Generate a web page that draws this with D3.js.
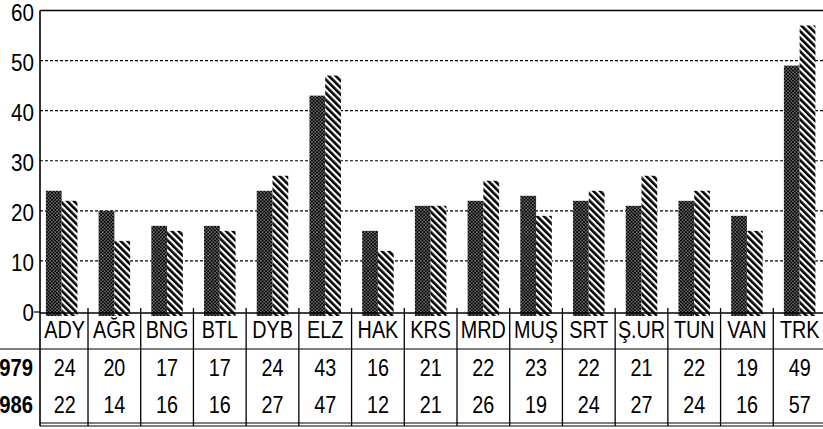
<!DOCTYPE html>
<html><head><meta charset="utf-8">
<script src="https://cdn.jsdelivr.net/npm/d3@7/dist/d3.min.js"></script>
<style>
html,body{margin:0;padding:0;background:#fff;}
svg{display:block;}
text{font-family:"Liberation Sans",Arial,sans-serif;fill:#000;}
</style></head>
<body>
<svg id="chart" width="823" height="429"></svg>
<script>
const categories = ["ADY","AĞR","BNG","BTL","DYB","ELZ","HAK","KRS","MRD","MUŞ","SRT","Ş.UR","TUN","VAN","TRK"];
const values1979 = [24,20,17,17,24,43,16,21,22,23,22,21,22,19,49];
const values1986 = [22,14,16,16,27,47,12,21,26,19,24,27,24,16,57];
const seriesNames = ["1979","1986"];
const yTicks = [0,10,20,30,40,50,60];

const svg = d3.select("#chart");
const axisX = 40, rightX = 823;

const x = d3.scaleBand().domain(categories).range([35.3, 826]).paddingInner(0).paddingOuter(0);
const inner = d3.scaleBand().domain(seriesNames).range([0, 31.5]);
const y = d3.scaleLinear().domain([0,60]).range([311, 10.5]);

const defs = svg.append("defs");
const pd = defs.append("pattern").attr("id","dots").attr("patternUnits","userSpaceOnUse")
  .attr("width",3.4).attr("height",3.4);
pd.append("rect").attr("width",3.4).attr("height",3.4).attr("fill","#000");
pd.append("circle").attr("cx",0.85).attr("cy",0.85).attr("r",0.65).attr("fill","#fff");
pd.append("circle").attr("cx",2.55).attr("cy",2.55).attr("r",0.65).attr("fill","#fff");
const ph = defs.append("pattern").attr("id","hatch").attr("patternUnits","userSpaceOnUse")
  .attr("width",4.8).attr("height",10).attr("patternTransform","rotate(-45)");
ph.append("rect").attr("width",4.8).attr("height",10).attr("fill","#fff");
ph.append("rect").attr("x",0).attr("width",2.6).attr("height",10).attr("fill","#000");

const fills = {"1979":"url(#dots)","1986":"url(#hatch)"};

function ctext(sel, tx, ty, str, size, anchor, weight, sx){
  return sel.append("text")
    .attr("transform", `translate(${tx},${ty}) scale(${sx||0.86},1)`)
    .attr("text-anchor", anchor||"middle")
    .attr("font-size", size)
    .attr("font-weight", weight||"normal")
    .text(str);
}

svg.append("g").selectAll("line").data(yTicks.filter(d=>d>0 && d<60)).join("line")
  .attr("x1",axisX).attr("x2",rightX).attr("y1",d=>y(d)).attr("y2",d=>y(d))
  .attr("stroke","#000").attr("stroke-width",1.2).attr("stroke-dasharray","3,2");
svg.append("line").attr("x1",axisX).attr("x2",rightX).attr("y1",y(60)).attr("y2",y(60))
  .attr("stroke","#000").attr("stroke-width",1.5);

const rows = categories.map((c,i)=>({cat:c, v:{"1979":values1979[i],"1986":values1986[i]}}));
const g = svg.append("g");
const base = y(0) + 5;
rows.forEach(r=>{
  const off = x(r.cat) + (x.bandwidth()-inner.range()[1])/2;
  seriesNames.forEach(s=>{
    g.append("rect").attr("x",off+inner(s)).attr("width",inner.bandwidth())
      .attr("y",y(r.v[s])).attr("height",base-y(r.v[s]))
      .attr("fill",fills[s]);
  });
});

const tableTop = y(0)+2, tableMid = y(0)+38, tableBot = y(0)+112;
svg.append("line").attr("x1",axisX).attr("x2",axisX).attr("y1",y(60)).attr("y2",tableBot+3)
  .attr("stroke","#000").attr("stroke-width",1.6);
svg.append("line").attr("x1",axisX-6).attr("x2",axisX).attr("y1",y(0)+1).attr("y2",y(0)+1)
  .attr("stroke","#000").attr("stroke-width",1.2);
const yl = svg.append("g");
yTicks.forEach(d=>ctext(yl, 34, y(d)+10, d, 24, "end"));

svg.append("line").attr("x1",axisX).attr("x2",rightX).attr("y1",tableTop).attr("y2",tableTop)
  .attr("stroke","#000").attr("stroke-width",1.4);
svg.append("line").attr("x1",0).attr("x2",rightX).attr("y1",tableMid).attr("y2",tableMid)
  .attr("stroke","#000").attr("stroke-width",1.2);
svg.append("line").attr("x1",axisX).attr("x2",rightX).attr("y1",tableBot).attr("y2",tableBot)
  .attr("stroke","#000").attr("stroke-width",1.2);
svg.append("line").attr("x1",axisX).attr("x2",rightX).attr("y1",tableBot+3).attr("y2",tableBot+3)
  .attr("stroke","#000").attr("stroke-width",1.2);
svg.append("g").selectAll("line").data(categories.slice(1)).join("line")
  .attr("x1",d=>x(d)).attr("x2",d=>x(d)).attr("y1",y(0)-3).attr("y2",tableBot+3)
  .attr("stroke","#000").attr("stroke-width",1.3);

const cl = svg.append("g");
categories.forEach((c,i)=>ctext(cl, x(c)+x.bandwidth()/2 + (i===0?3:0), y(0)+27, c, 23, "middle"));

const rowY = {"1979": y(0)+65, "1986": y(0)+102};
seriesNames.forEach(s=>{
  ctext(svg, 33, rowY[s], s, 23, "end", "bold", 0.88);
  const rg = svg.append("g");
  rows.forEach((d,i)=>ctext(rg, x(d.cat)+x.bandwidth()/2 + (i===0?3:0), rowY[s], d.v[s], 23, "middle"));
});
</script>
</body></html>
